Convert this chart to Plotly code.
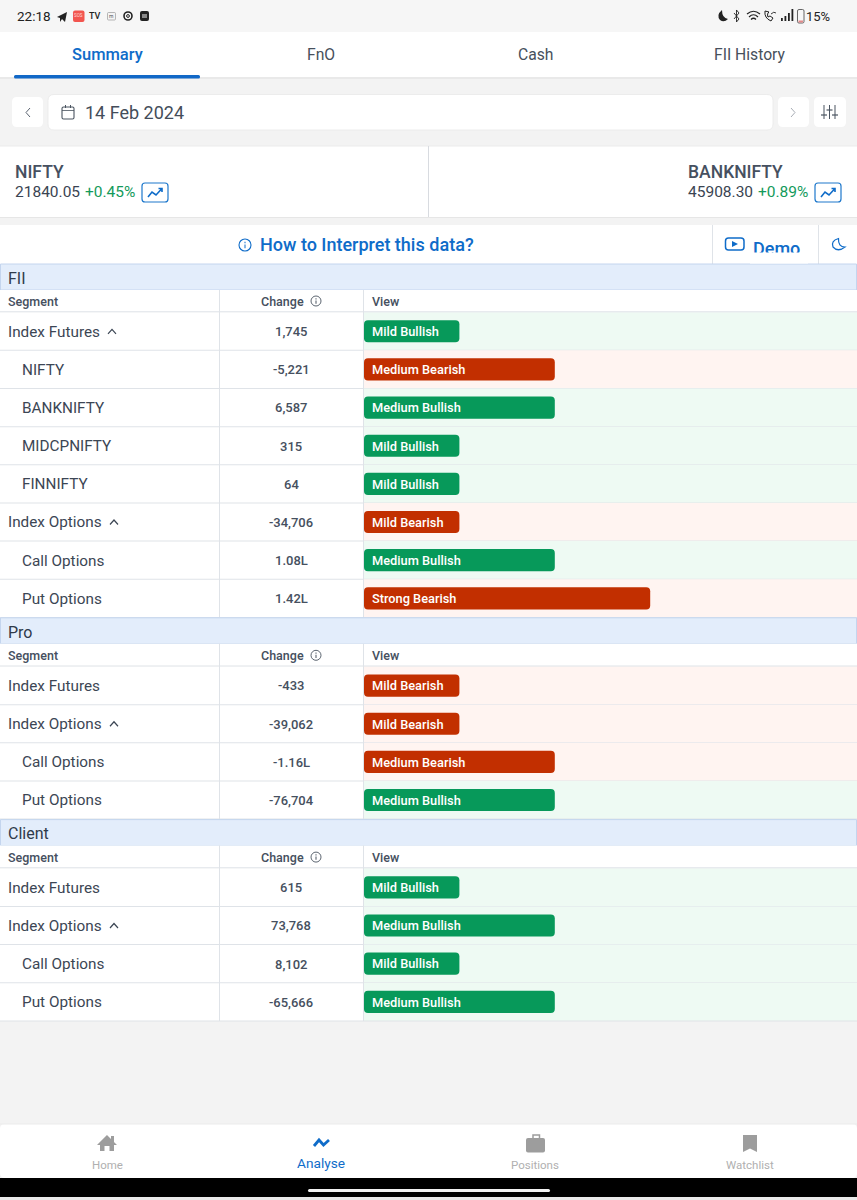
import re
import plotly.graph_objects as go

W, H = 857, 1200

# ---------- data ----------
fii_segments = ["Index Futures", "NIFTY", "BANKNIFTY", "MIDCPNIFTY", "FINNIFTY",
                "Index Options", "Call Options", "Put Options"]
fii_changes = ["1,745", "-5,221", "6,587", "315", "64", "-34,706", "1.08L", "1.42L"]
fii_views = ["Mild Bullish", "Medium Bearish", "Medium Bullish", "Mild Bullish", "Mild Bullish",
             "Mild Bearish", "Medium Bullish", "Strong Bearish"]
fii_children = [False, True, True, True, True, False, True, True]
fii_chevrons = [True, False, False, False, False, True, False, False]

pro_segments = ["Index Futures", "Index Options", "Call Options", "Put Options"]
pro_changes = ["-433", "-39,062", "-1.16L", "-76,704"]
pro_views = ["Mild Bearish", "Mild Bearish", "Medium Bearish", "Medium Bullish"]
pro_children = [False, False, True, True]
pro_chevrons = [False, True, False, False]

client_segments = ["Index Futures", "Index Options", "Call Options", "Put Options"]
client_changes = ["615", "73,768", "8,102", "-65,666"]
client_views = ["Mild Bullish", "Medium Bullish", "Mild Bullish", "Medium Bullish"]
client_children = [False, False, True, True]
client_chevrons = [False, True, False, False]

strength_levels = {"Mild": 1, "Medium": 2, "Strong": 3}
tabs = ["Summary", "FnO", "Cash", "FII History"]
nav_items = ["Home", "Analyse", "Positions", "Watchlist"]

# ---------- palette ----------
FONT = "Roboto"
MEDIUM = "Roboto Medium, Roboto"
INK = "#2f3a4a"
SOFT = "#465060"
BLUE = "#0f6cc9"
GREEN = "#07995a"
RED = "#c22f00"
GREEN_BG = "#eefaf3"
RED_BG = "#fff4f1"
LINE = "#dfe3e8"
HEAD_BG = "#e3edfb"
HEAD_LINE = "#c4d5ee"
PAGE = "#f3f3f3"
GRAY_ICON = "#9d9d9d"

shapes, annos = [], []


def fx(x):
    return x / W


def fy(y):
    return 1 - y / H


def pth(d, dx=0, dy=0):
    out, is_x = [], True
    for tok in re.findall(r"[MLQCZ]|-?\d+\.?\d*", d):
        if tok in "MLQCZ":
            out.append(tok)
            is_x = True
        else:
            out.append(f"{fx(float(tok) + dx):.5f}" if is_x else f"{fy(float(tok) + dy):.5f}")
            is_x = not is_x
    return " ".join(out)


def rect(x0, y0, x1, y1, fill, line=None, lw=1, layer="below"):
    shapes.append(dict(type="rect", xref="paper", yref="paper", x0=fx(x0), x1=fx(x1), y0=fy(y0), y1=fy(y1),
                       fillcolor=fill, line=dict(color=line or fill, width=lw if line else 0), layer=layer))


def rrect(x0, y0, x1, y1, r, fill, line=None, lw=1, layer="below"):
    d = (f"M {x0+r} {y0} L {x1-r} {y0} Q {x1} {y0} {x1} {y0+r} L {x1} {y1-r} Q {x1} {y1} {x1-r} {y1} "
         f"L {x0+r} {y1} Q {x0} {y1} {x0} {y1-r} L {x0} {y0+r} Q {x0} {y0} {x0+r} {y0} Z")
    shapes.append(dict(type="path", xref="paper", yref="paper", path=pth(d), fillcolor=fill,
                       line=dict(color=line or fill, width=lw if line else 0), layer=layer))


def hline(y, x0=0, x1=W, color=LINE, lw=1):
    rect(x0, y - lw / 2, x1, y + lw / 2, color)


def vline(x, y0, y1, color=LINE, lw=1):
    rect(x - lw / 2, y0, x + lw / 2, y1, color)


def stroke(d, color, lw=1.4, dx=0, dy=0, fill=None):
    s = dict(type="path", xref="paper", yref="paper", path=pth(d, dx, dy), line=dict(color=color, width=lw), layer="below")
    if fill:
        s["fillcolor"] = fill
    shapes.append(s)


def solid(d, color, dx=0, dy=0):
    shapes.append(dict(type="path", xref="paper", yref="paper", path=pth(d, dx, dy), fillcolor=color,
                       line=dict(color=color, width=0), layer="below"))


def circle(cx, cy, r, color, lw=1.1, fill=None):
    shapes.append(dict(type="circle", xref="paper", yref="paper", x0=fx(cx - r), x1=fx(cx + r),
                       y0=fy(cy + r), y1=fy(cy - r), line=dict(color=color, width=lw),
                       fillcolor=fill or "rgba(0,0,0,0)", layer="below"))


def txt(x, y, s, size=14, color=INK, anchor="left", medium=False):
    annos.append(dict(x=fx(x - 1 if anchor == "left" else x), y=fy(y), xref="paper", yref="paper", text=s,
                      showarrow=False, xanchor=anchor, yanchor="middle", borderpad=0,
                      font=dict(family=MEDIUM if medium else FONT, size=size, color=color)))


def info(cx, cy, r, color, lw=1.0):
    circle(cx, cy, r, color, lw)
    rect(cx - 0.5, cy - 0.6, cx + 0.5, cy + r * 0.55, color)
    rect(cx - 0.5, cy - r * 0.55, cx + 0.5, cy - r * 0.3, color)


# ---------- page chrome ----------
rect(0, 0, W, 32, "#f6f6f6")
txt(17, 16, "22:18", 13.5, "#222222")
solid("M 57 17 L 67 12 L 65 22 L 62 19 L 60 22 L 60 18 Z", "#222222")
rrect(73, 10.5, 84.5, 22, 2, "#f2554f")
txt(78.7, 16, "SOS", 4.5, "#ffd9d6", "center")
txt(95, 16, "TV", 9, "#222222", "center", True)
rrect(107.5, 12.5, 115.5, 20, 1, "#f4f4f4", "#999999", 0.7)
txt(111.5, 16, "m", 5, "#555555", "center")
circle(128, 16, 4, "#222222", 1.6)
circle(128, 16, 1.4, "#222222", 1)
rrect(140, 11, 149, 21, 2, "#222222")
rect(142, 14, 147, 18, "#888888")
solid("M 722 10 Q 716 15 720 20 Q 724 23 728 19 Q 722 18 722 10 Z", "#222222")
stroke("M 734 13 L 739 19 L 736.5 22 L 736.5 10 L 739 13 L 734 19", "#222222", 0.9)
stroke("M 747 14 Q 753.5 8.5 760 14 M 749 17 Q 753.5 12.5 758 17 M 751 19.5 Q 753.5 17 756 19.5", "#222222", 1.2)
stroke("M 765 11 Q 764 18 771 21 L 773 18 L 770 16 L 768 17 Q 767 15 768 13 L 769 12 Z", "#222222", 1)
stroke("M 771 14 Q 774 11 776 13", "#222222", 0.9)
for i, hh in enumerate([3, 5, 8, 12]):
    rect(781 + i * 3.5, 21 - hh, 782.8 + i * 3.5, 21, "#222222")
rrect(797.5, 9.5, 804, 23, 1.5, "#f6f6f6", "#555555", 0.9)
rect(798.5, 20.5, 803, 22.5, "#e58a8a")
txt(806, 16.5, "15%", 13, "#222222")

# tabs
rect(0, 32, W, 77, "#ffffff")
hline(78, color="#e6e6e6", lw=1.5)
for name, cx in zip(tabs, [107, 321, 535, 750]):
    active = name == "Summary"
    txt(cx, 54, name, 16.5 if active else 15.7, BLUE if active else "#47505c", "center", active)
rrect(14, 75, 200, 78.5, 1.5, "#1168c7")

# date row
rrect(12, 97, 43, 127, 5, "#ffffff")
stroke("M 30 108 L 26 112.5 L 30 117", "#5a6370", 1)
rrect(48, 94.5, 773, 130, 6, "#ffffff", "#e8e8e8", 0.8)
rrect(62, 107, 74, 119, 1.5, "#ffffff", "#4a5460", 1.1)
rect(62, 110.2, 74, 111, "#4a5460")
rect(65, 105, 66, 108, "#4a5460")
rect(70, 105, 71, 108, "#4a5460")
txt(85, 112.5, "14 Feb 2024", 18, "#444d5a")
rrect(778, 97, 809, 127, 5, "#ffffff")
stroke("M 791 108 L 795 112.5 L 791 117", "#a8adb5", 1)
rrect(814, 97, 846, 127, 5, "#ffffff")
for x, h_y in zip([824, 829.5, 835], [115, 110, 115]):
    rect(x - 0.5, 105, x + 0.5, 119, "#4a5460")
    rect(x - 3, h_y - 0.6, x + 3, h_y + 0.6, "#4a5460")

# index cards
rect(0, 146, W, 217, "#ffffff")
hline(146, color="#ebebeb")
hline(217.5, color="#e6e6e6")
vline(428.5, 146, 217, color="#d8dbe0")


def trend_icon(dx):
    rrect(142 + dx, 183, 168 + dx, 202, 3, "#ffffff", "#1e78cc", 1.2)
    stroke("M 148 197 L 152 192 L 156 195 L 162 188.5 M 158.5 188.5 L 162 188.5 L 162 192", BLUE, 1.6, dx=dx)


txt(15, 172, "NIFTY", 17.5, SOFT, medium=True)
txt(15, 192, "21840.05", 15.5, "#3a4452")
txt(85, 192, "+0.45%", 15.5, "#139a5b")
trend_icon(0)
txt(688, 172, "BANKNIFTY", 17.5, SOFT, medium=True)
txt(688, 192, "45908.30", 15.5, "#3a4452")
txt(758, 192, "+0.89%", 15.5, "#139a5b")
trend_icon(673)

# interpret row
rect(0, 225, W, 264, "#ffffff")
vline(712.5, 225, 264)
vline(818.5, 225, 264)
info(245, 245, 6, BLUE, 1.1)
txt(260, 245, "How to Interpret this data?", 18, BLUE, medium=True)
rrect(725.5, 238, 744, 250, 3, "#ffffff", BLUE, 1.5)
solid("M 732 241 L 738 244 L 732 247 Z", BLUE)
stroke("M 838.5 238.5 Q 830.5 241 833 247 Q 838 252.5 845 247 Q 838 247 838.5 238.5 Z", BLUE, 1.2)
# Demo label is cut off in the source: a cover sits above it
rect(750, 252.5, 808, 263.5, "#ffffff", layer="above")


# ---------- sections ----------
ROW_H = 38.15


def section(title, top, row_top, segments, changes, views, children, chevrons):
    """Draws the chrome of a section; returns its row-block top and bottom in px."""
    rect(0.5, top, W - 0.5, top + 26, HEAD_BG, HEAD_LINE, 1)
    txt(8, top + 14.3, title, 16, INK)
    rect(0, top + 26, W, row_top, "#ffffff")
    head_y = row_top - 11.2
    txt(8, head_y, "Segment", 12.5, SOFT, medium=True)
    txt(282, head_y, "Change", 12.5, SOFT, "center", True)
    info(316, head_y, 5, "#4a5460", 0.9)
    txt(372, head_y, "View", 12.5, SOFT, medium=True)
    bottom = row_top + ROW_H * len(segments)
    rect(0, row_top, 364, bottom, "#ffffff")
    for i, (seg, chg, view, child, chev) in enumerate(zip(segments, changes, views, children, chevrons)):
        y0 = row_top + i * ROW_H
        cy = y0 + ROW_H / 2
        rect(364, y0, W, y0 + ROW_H, GREEN_BG if "Bullish" in view else RED_BG)
        txt(22 if child else 8, cy + 0.4, seg, 15.3, "#3c4654")
        if chev:
            cx = 112 if seg == "Index Futures" else 114
            stroke(f"M {cx-4} {cy+2.5} L {cx} {cy-2} L {cx+4} {cy+2.5}", "#3c4654", 1.2)
        txt(291, cy + 0.4, chg, 13, SOFT, "center", True)
        hline(y0 + ROW_H, color=LINE)
    hline(row_top - 0.5, color=LINE)
    vline(219.5, top + 26, bottom, color=LINE)
    vline(363.5, top + 26, bottom, color=LINE)
    return row_top, bottom


def bars(segments, views, axis_suffix):
    levels = [strength_levels[v.split()[0]] for v in views]
    colors = [GREEN if "Bullish" in v else RED for v in views]
    return go.Bar(y=segments, x=levels, orientation="h", base=0, width=0.58,
                  marker=dict(color=colors, line=dict(width=0), cornerradius=4),
                  text=views, textposition="none", hoverinfo="skip", showlegend=False,
                  xaxis="x" + axis_suffix, yaxis="y" + axis_suffix)


sections = [
    ("FII", 264, 312.2, fii_segments, fii_changes, fii_views, fii_children, fii_chevrons, ""),
    ("Pro", 617.8, 666.5, pro_segments, pro_changes, pro_views, pro_children, pro_chevrons, "2"),
    ("Client", 819.6, 868.3, client_segments, client_changes, client_views, client_children, client_chevrons, "3"),
]

fig = go.Figure()
layout_axes = {}
BAR_UNIT = 95.4
X0 = 364
for title, top, rows_at, segs, chgs, views, kids, chevs, sfx in sections:
    y0, y1 = section(title, top, rows_at, segs, chgs, views, kids, chevs)
    fig.add_trace(bars(segs, views, sfx))
    xname = "xaxis" + sfx
    yname = "yaxis" + sfx
    layout_axes[xname] = dict(domain=[X0 / W, 1], range=[0, (W - X0) / BAR_UNIT], visible=False,
                              anchor="y" + sfx, fixedrange=True)
    layout_axes[yname] = dict(domain=[fy(y1), fy(y0)], type="category", categoryorder="array",
                              categoryarray=segs, range=[len(segs) - 0.5, -0.5], visible=False,
                              anchor="x" + sfx, fixedrange=True)
    for i, v in enumerate(views):
        txt(372, y0 + ROW_H * (i + 0.5) + 0.3, v, 12.8, "#ffffff", medium=True)

# page-pixel overlay axis, only for the clipped Demo label
fig.add_trace(go.Scatter(x=[753], y=[250], mode="text", text=["Demo"], textposition="middle right",
                         textfont=dict(family=MEDIUM, size=18, color=BLUE),
                         hoverinfo="skip", showlegend=False, xaxis="x4", yaxis="y4", cliponaxis=False))
layout_axes["xaxis4"] = dict(domain=[0, 1], range=[0, W], visible=False, anchor="y4", fixedrange=True)
layout_axes["yaxis4"] = dict(domain=[0, 1], range=[H, 0], visible=False, anchor="x4", fixedrange=True)

# ---------- bottom navigation ----------
rrect(0, 1124, W, 1178, 5, "#ffffff")
hline(1124, color="#ebebeb")
rect(0, 1178, W, 1197, "#000000")
rrect(308, 1189, 550, 1192, 1.5, "#f2f2f2")
rect(0, 1197, W, 1200, "#e9e9e9")
solid("M 107 1135 L 111 1139 L 111 1136 L 114 1136 L 114 1142 L 117 1145 L 114 1145 L 114 1151 L 109.5 1151 "
      "L 109.5 1146 L 104.5 1146 L 104.5 1151 L 100 1151 L 100 1145 L 97 1145 Z", GRAY_ICON)
stroke("M 314 1146 L 319 1140 L 323.5 1145 L 329 1140", BLUE, 2.8)
stroke("M 533 1138.5 L 533 1135 L 539.5 1135 L 539.5 1138.5", GRAY_ICON, 1.5)
rrect(526, 1138, 545, 1152.5, 2, GRAY_ICON)
solid("M 743 1135 L 757 1135 L 757 1152 L 750 1148.5 L 743 1152 Z", GRAY_ICON)
for name, cx in zip(nav_items, [107, 321, 535, 750]):
    if name == "Analyse":
        txt(cx, 1163, name, 13.7, BLUE, "center")
    else:
        txt(cx, 1164.5, name, 11.5, "#b0b0b0", "center")

fig.update_layout(
    width=W, height=H, margin=dict(l=0, r=0, t=0, b=0), autosize=False,
    paper_bgcolor=PAGE, plot_bgcolor="rgba(0,0,0,0)",
    shapes=shapes, annotations=annos, barmode="overlay", hovermode=False,
    font=dict(family=FONT), **layout_axes,
)
fig.write_html("out.html", config={"displayModeBar": False, "responsive": False},
               post_script="document.body.style.margin='0';document.documentElement.style.background='#f3f3f3';")
